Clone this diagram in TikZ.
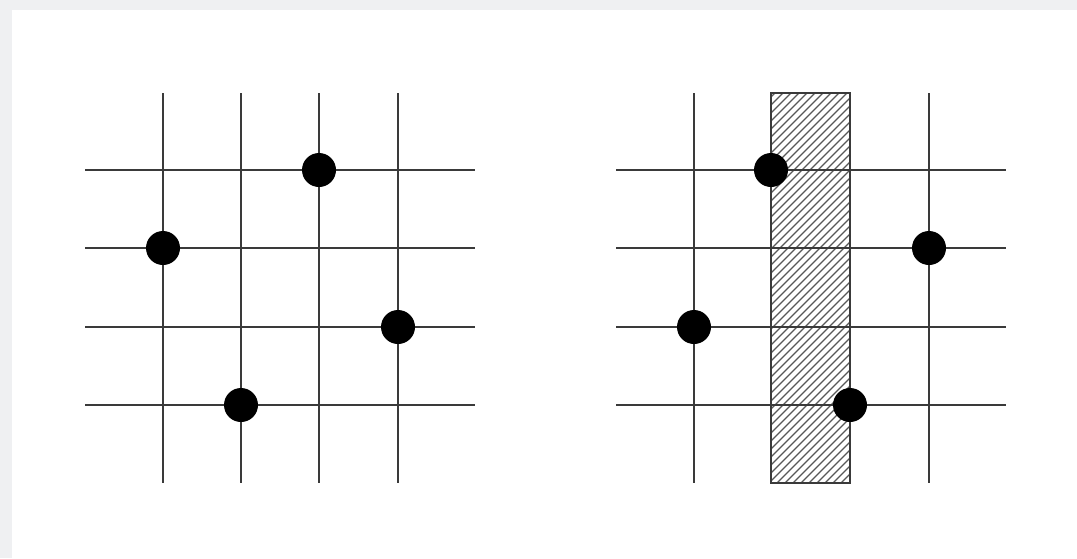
\documentclass[tikz,border=0pt]{standalone}
\definecolor{edge}{HTML}{EFF0F2}
\definecolor{gridc}{HTML}{3A3A3A}
\tikzset{
  gridline/.style={draw=gridc, line width=1.4pt},
  dot/.style={circle, fill=black, inner sep=0pt, minimum size=34pt},
  hatchline/.style={draw=gridc!85, line width=1.1pt}
}
\begin{document}
\begin{tikzpicture}[x=1pt,y=-1pt]
\useasboundingbox (0,0) rectangle (1077,558);
\fill[edge] (0,0) rectangle (1077,558);
\fill[white] (12,10) rectangle (1077,558);
% left grid
\foreach \x in {163,241,319,398} \draw[gridline] (\x,93) -- (\x,483);
\foreach \y in {170,248,327,405} \draw[gridline] (85,\y) -- (475,\y);
\node[dot] (a1) at (319,170) {};
\node[dot] (a2) at (163,248) {};
\node[dot] (a3) at (398,327) {};
\node[dot] (a4) at (241,405) {};
% right grid: hatched column
\begin{scope}
  \clip (771,93) rectangle (850,483);
  \foreach \c in {860,868,...,1340} \draw[hatchline] (\c-483,483) -- (\c-93,93);
\end{scope}
\draw[gridline] (771,93) rectangle (850,483);
\foreach \x in {694,771,850,929} \draw[gridline] (\x,93) -- (\x,483);
\foreach \y in {170,248,327,405} \draw[gridline] (616,\y) -- (1006,\y);
\node[dot] (b1) at (771,170) {};
\node[dot] (b2) at (929,248) {};
\node[dot] (b3) at (694,327) {};
\node[dot] (b4) at (850,405) {};
\end{tikzpicture}
\end{document}
